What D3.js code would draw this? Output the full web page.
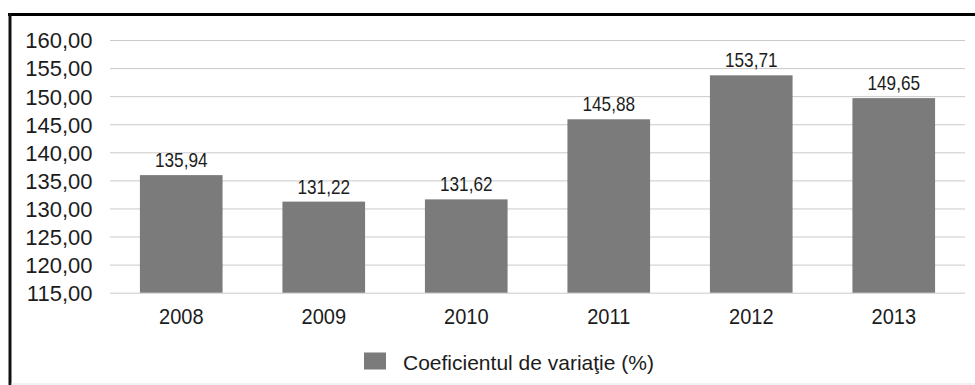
<!DOCTYPE html>
<html>
<head>
<meta charset="utf-8">
<script src="https://cdn.jsdelivr.net/npm/d3@7/dist/d3.min.js"></script>
<style>
  html, body { margin: 0; padding: 0; background: #fff; }
  svg { display: block; }
  text { font-family: "Liberation Sans", Arial, sans-serif; fill: #1c1c1c; }
</style>
</head>
<body>
<svg id="chart" width="975" height="385"></svg>
<script>
// Coefficient of variation by year
const years = ["2008", "2009", "2010", "2011", "2012", "2013"];
const values = [135.94, 131.22, 131.62, 145.88, 153.71, 149.65];
const yTicks = [115, 120, 125, 130, 135, 140, 145, 150, 155, 160];
const seriesName = "Coeficientul de variaţie (%)";

const W = 975, H = 385;
const plot = { left: 110, right: 965, top: 40, bottom: 292.7 };
const barColor = "#7b7b7b";
const gridColor = "#cacaca";

const svg = d3.select("#chart");
const fmt = v => d3.format(".2f")(v).replace(".", ",");

const x = d3.scaleBand()
  .domain(years)
  .range([plot.left, plot.right])
  .paddingInner(0.42)
  .paddingOuter(0.21);

const y = d3.scaleLinear()
  .domain([115, 160])
  .range([plot.bottom, plot.top]);

// frame
svg.append("rect").attr("x", 0).attr("y", 0).attr("width", W).attr("height", H).attr("fill", "#fff");
svg.append("line").attr("x1", 8).attr("x2", W).attr("y1", 14.5).attr("y2", 14.5)
  .attr("stroke", "#000").attr("stroke-width", 3);
svg.append("line").attr("x1", 10).attr("x2", 10).attr("y1", 13).attr("y2", H)
  .attr("stroke", "#111").attr("stroke-width", 3);
svg.append("line").attr("x1", 11).attr("x2", W).attr("y1", 384).attr("y2", 384)
  .attr("stroke", "#e4e4e4").attr("stroke-width", 1);

// y axis: gridlines and labels
const yAxis = d3.axisLeft(y)
  .tickValues(yTicks)
  .tickSize(-(plot.right - plot.left))
  .tickPadding(17.5)
  .tickFormat(fmt);

const gy = svg.append("g")
  .attr("transform", `translate(${plot.left},0)`)
  .call(yAxis);
gy.select(".domain").remove();
gy.selectAll(".tick line").attr("stroke", gridColor).attr("stroke-width", 1);
gy.selectAll(".tick text")
  .attr("font-size", 22)
  .attr("font-family", "Liberation Sans, Arial, sans-serif")
  .attr("fill", "#1c1c1c")
  .attr("dy", "0.36em");

// bars
svg.append("g").selectAll("rect")
  .data(values)
  .join("rect")
  .attr("x", (d, i) => x(years[i]))
  .attr("width", x.bandwidth())
  .attr("y", d => y(d))
  .attr("height", d => y(115) - y(d))
  .attr("fill", barColor);

// value labels
svg.append("g").selectAll("text")
  .data(values)
  .join("text")
  .attr("transform", (d, i) => `translate(${x(years[i]) + x.bandwidth() / 2},${y(d) - 8}) scale(0.86,1)`)
  .attr("text-anchor", "middle")
  .attr("font-size", 20)
  .text(d => fmt(d));

// x axis labels
const xAxis = d3.axisBottom(x).tickSize(0).tickPadding(0);
const gx = svg.append("g")
  .attr("transform", `translate(0,${plot.bottom})`)
  .call(xAxis);
gx.select(".domain").remove();
gx.selectAll(".tick text")
  .attr("y", 31.6)
  .attr("dy", 0)
  .attr("font-size", 22)
  .attr("font-family", "Liberation Sans, Arial, sans-serif")
  .attr("fill", "#1c1c1c")
  .attr("transform", "scale(0.91,1)")
  .each(function() {
    const t = d3.select(this.parentNode).attr("transform");
    const cx = +t.match(/translate\(([-\d.]+)/)[1];
    d3.select(this.parentNode).attr("transform", `translate(${cx},0)`);
  });

// legend
const lg = svg.append("g");
lg.append("rect")
  .attr("x", 364).attr("y", 352.5)
  .attr("width", 22).attr("height", 17)
  .attr("fill", barColor);
lg.append("text")
  .attr("x", 403).attr("y", 370)
  .attr("font-size", 21)
  .text(seriesName);
</script>
</body>
</html>
